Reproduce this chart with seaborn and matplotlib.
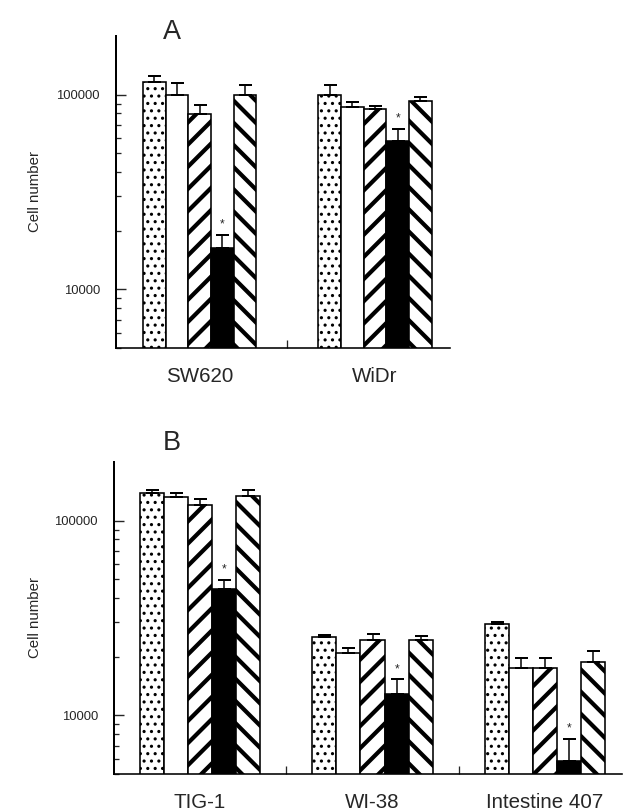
import numpy as np
import pandas as pd
import matplotlib
matplotlib.use("Agg")
import matplotlib.pyplot as plt
import seaborn as sns
from matplotlib.ticker import FixedLocator, FixedFormatter, NullFormatter

# =========================
# DATA (cell numbers)
# =========================
treatments = ["T1", "T2", "T3", "T4", "T5"]
bar_colors = ["white", "white", "white", "black", "white"]
bar_hatches = ["...", "", "//", "", "\\\\"]
star_treatment = "T4"

lines_a = ["SW620", "WiDr"]
sw620 = [115600, 100000, 79300, 16400, 100000]
sw620_sd = [8400, 15000, 9600, 2700, 12000]
widr = [100000, 86100, 84000, 58000, 93200]
widr_sd = [12000, 5200, 3000, 8700, 4400]

lines_b = ["TIG-1", "WI-38", "Intestine 407"]
tig1 = [138000, 133000, 120000, 44800, 134000]
tig1_sd = [6000, 6000, 9000, 4800, 9000]
wi38 = [25300, 20800, 24400, 12900, 24400]
wi38_sd = [600, 1300, 1900, 2400, 1300]
int407 = [29400, 17500, 17500, 5800, 18700]
int407_sd = [900, 2300, 2300, 1800, 2700]

# figure is 624x812 px; dpi picked so hatch spacing looks like the scan
DPI = 400 / 3
W, H = 624, 812


def px(v):
    # pixels -> points
    return v * 72 / DPI


def make_frame(lines, means, sds):
    rows = []
    for line, m, s in zip(lines, means, sds):
        for t, v, e in zip(treatments, m, s):
            rows.append({"line": line, "treatment": t, "cells": v, "sd": e})
    return pd.DataFrame(rows)


df_a = make_frame(lines_a, [sw620, widr], [sw620_sd, widr_sd])
df_b = make_frame(lines_b, [tig1, wi38, int407], [tig1_sd, wi38_sd, int407_sd])

sns.set_style("ticks")
plt.rcParams["font.family"] = ["Liberation Sans", "DejaVu Sans"]
plt.rcParams["axes.edgecolor"] = "black"
plt.rcParams["hatch.linewidth"] = px(4)
plt.rcParams["hatch.color"] = "black"


def draw_panel(ax, df, lines, xlim, width):
    sns.barplot(
        data=df, x="line", y="cells", hue="treatment",
        order=lines, hue_order=treatments,
        palette=dict(zip(treatments, bar_colors)),
        width=width, gap=0, errorbar=None,
        edgecolor="black", linewidth=px(1.6),
        legend=False, ax=ax
    )
    ax.set_yscale("log")
    for t, hatch, cont in zip(treatments, bar_hatches, ax.containers):
        for line, bar in zip(lines, cont):
            bar.set_hatch(hatch)
            bar.set_edgecolor("black")
            if hasattr(bar, "set_hatch_linewidth"):
                bar.set_hatch_linewidth(px(1.7) if hatch.startswith(".") else px(4.2))
            row = df[(df["line"] == line) & (df["treatment"] == t)].iloc[0]
            x = bar.get_x() + bar.get_width() / 2
            ax.errorbar(x, row["cells"], yerr=[[0], [row["sd"]]], fmt="none",
                        ecolor="black", elinewidth=px(1.5), capsize=px(6.5),
                        capthick=px(2))
            if t == star_treatment:
                ax.annotate("*", (x, row["cells"] + row["sd"]), xytext=(0, px(4)),
                            textcoords="offset points", ha="center", va="bottom",
                            fontsize=px(12))

    ax.set_ylim(5000, 200000)
    ax.set_xlim(*xlim)
    ax.yaxis.set_major_locator(FixedLocator([10000, 100000]))
    ax.yaxis.set_major_formatter(FixedFormatter(["10000", "100000"]))
    minors = [k * 10 ** e for e in (3, 4, 5) for k in range(2, 10)]
    ax.yaxis.set_minor_locator(FixedLocator([m for m in minors if m < 190000]))
    ax.yaxis.set_minor_formatter(NullFormatter())
    ax.tick_params(axis="y", which="major", direction="in", length=px(10),
                   width=px(1.4), pad=px(16), labelsize=px(13))
    ax.tick_params(axis="y", which="minor", direction="in", length=px(5), width=px(1.3))

    ax.xaxis.set_minor_locator(FixedLocator([i + 0.5 for i in range(len(lines) - 1)]))
    ax.tick_params(axis="x", which="major", length=0, pad=px(19), labelsize=px(20.5))
    ax.tick_params(axis="x", which="minor", direction="in", length=px(8), width=px(1.3))
    ax.set_xlabel("")
    ax.set_ylabel("")
    sns.despine(ax=ax)
    ax.spines["left"].set_linewidth(px(2))
    ax.spines["bottom"].set_linewidth(px(1.6))


fig = plt.figure(figsize=(W / DPI, H / DPI), dpi=DPI)
ax_a = fig.add_axes([116 / W, 1 - 348 / H, (450 - 116) / W, (348 - 36) / H])
ax_b = fig.add_axes([114 / W, 1 - 774 / H, (622 - 114) / W, (774 - 462) / H])

draw_panel(ax_a, df_a, lines_a, (-0.476, 1.427), 0.645)
draw_panel(ax_b, df_b, lines_b, (-0.499, 2.446), 0.70)

fig.text(172 / W, 1 - 32 / H, "A", fontsize=px(27), ha="center", va="center")
fig.text(172 / W, 1 - 443 / H, "B", fontsize=px(27), ha="center", va="center")
fig.text(35 / W, 1 - 192 / H, "Cell number", fontsize=px(15), rotation=90,
         ha="center", va="center")
fig.text(35 / W, 1 - 618 / H, "Cell number", fontsize=px(15), rotation=90,
         ha="center", va="center")

fig.savefig("out.png", dpi=DPI, facecolor="white")
